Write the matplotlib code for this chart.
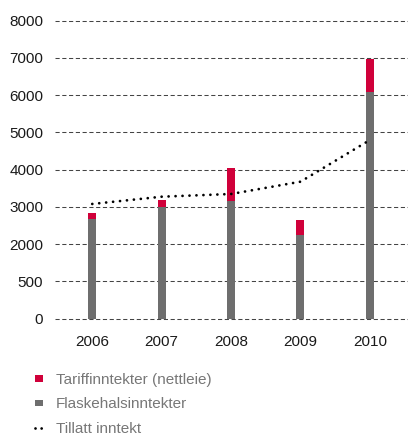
import matplotlib
matplotlib.use("Agg")
import matplotlib.pyplot as plt
from matplotlib.patches import Patch
from matplotlib.lines import Line2D

years = ["2006", "2007", "2008", "2009", "2010"]
flaskehals = [2685, 2990, 3160, 2255, 6077]
tariff = [161, 188, 894, 386, 895]
tillatt = [3080, 3275, 3348, 3678, 4797]
ytick_values = [0, 1000, 2000, 3000, 4000, 5000, 6000, 7000, 8000]
ytick_labels = ["0", "500", "2000", "3000", "4000", "5000", "6000", "7000", "8000"]

RED = "#d0003a"
GRAY = "#6e6e6e"

plt.rcParams["font.family"] = ["Liberation Sans", "DejaVu Sans"]

W, H = 408, 436
fig = plt.figure(figsize=(W / 100, H / 100), dpi=100)
left_px, right_px = 55, 408
top_px, bot_px = 17.0, 322.4
ax = fig.add_axes([left_px / W, 1 - bot_px / H, (right_px - left_px) / W, (bot_px - top_px) / H])

x = list(range(len(years)))
ax.bar(x, flaskehals, width=0.115, color=GRAY, zorder=3)
ax.bar(x, tariff, bottom=flaskehals, width=0.115, color=RED, zorder=3)
ax.plot(x, tillatt, color="black", lw=2.0, linestyle=(0, (0.01, 2.5)),
        dash_capstyle="round", zorder=4)

ax.set_xlim(-0.537, 4.549)
ax.set_ylim(-100, 8100)
ax.set_yticks(ytick_values)
ax.set_yticklabels(ytick_labels)
ax.set_xticks(x)
ax.set_xticklabels(years)
for s in ax.spines.values():
    s.set_visible(False)
ax.tick_params(axis="both", length=0, labelsize=11, colors="#1a1a1a")
ax.tick_params(axis="y", pad=8.5)
ax.tick_params(axis="x", pad=9)
for v in ytick_values:
    ax.axhline(v, color="#444444", lw=0.75, linestyle=(0, (4, 2.5)), zorder=1)

handles = [
    Patch(facecolor=RED, edgecolor="none"),
    Patch(facecolor=GRAY, edgecolor="none"),
    Line2D([0], [0], color="black", lw=2.0, linestyle=(0, (0.01, 2.2)), dash_capstyle="round"),
]
labels = ["Tariffinntekter (nettleie)", "Flaskehalsinntekter", "Tillatt inntekt"]
leg = fig.legend(handles, labels, loc="upper left", bbox_to_anchor=(35 / W, 1 - 373 / H),
                 frameon=False, fontsize=11, handlelength=0.5, handleheight=0.3,
                 handletextpad=0.85, labelspacing=0.68, borderaxespad=0, borderpad=0)
for t in leg.get_texts():
    t.set_color("#777777")

fig.savefig("out.png", dpi=100)
